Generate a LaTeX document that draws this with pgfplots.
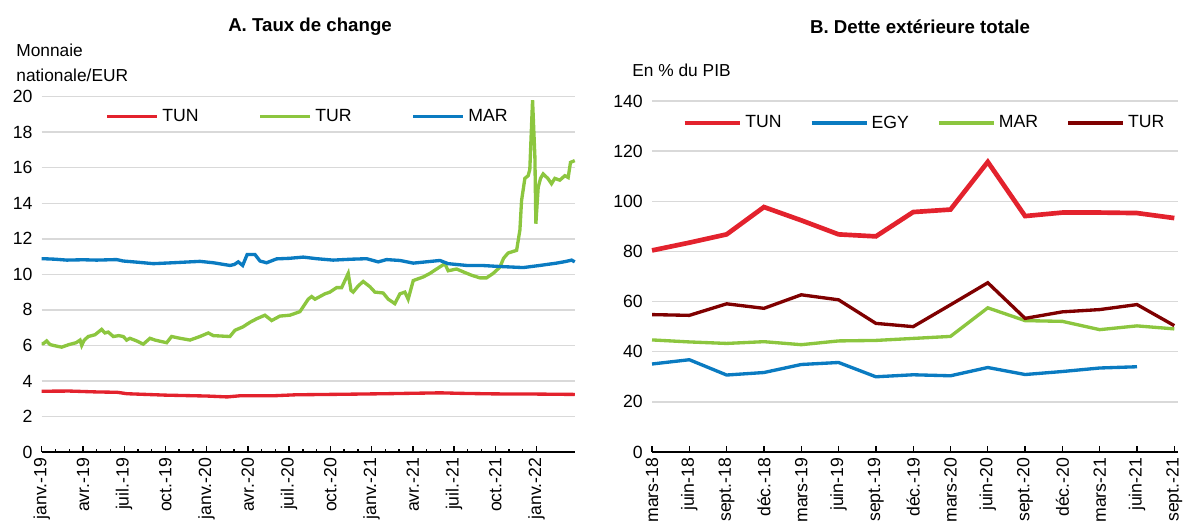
\documentclass[border=0pt]{standalone}
\usepackage{pgfplots}
\pgfplotsset{compat=1.18}
\usepackage{fontspec}
\setmainfont{Liberation Sans}

\definecolor{tunred}{HTML}{E3222D}
\definecolor{turgreen}{HTML}{8CC63F}
\definecolor{marblue}{HTML}{0A7BC1}
\definecolor{turdark}{HTML}{7F0000}
\definecolor{gridgrey}{HTML}{D9D9D9}

\pgfplotsset{
  panel/.style={
    scale only axis,
    axis x line*=bottom, axis y line*=left,
    y axis line style={draw=none},
    x axis line style={black, line width=0.9pt, -},
    ytick style={draw=none},
    ymajorgrids, grid style={gridgrey, line width=0.9pt},
    tick label style={font=\fontsize{10.6}{12}\selectfont},
    /pgf/number format/assume math mode=true,
    xticklabel style={rotate=90, anchor=east},
    xtick style={black, line width=0.8pt},
    tick align=inside,
    major tick length=3.6pt, minor tick length=2pt,
    clip=false,
    legend style={draw=none, fill=none, font=\fontsize{10.6}{12}\selectfont,
      anchor=center, inner sep=0pt},
    legend columns=-1,
  }
}

\begin{document}
\begin{tikzpicture}
\path[use as bounding box] (-25.02pt,-41.4pt) rectangle (690.18pt,271.2pt);

% Panel A
\begin{axis}[panel,
  at={(0pt,0pt)}, anchor=south west,
  width=320pt, height=213.2pt,
  xmin=0, xmax=38.8, ymin=0, ymax=20,
  ytick={0,2,...,20},
  yticklabel style={xshift=-2pt},
  xtick={0,3,...,36},
  minor x tick num=2,
  xticklabels={janv.-19,avr.-19,juil.-19,oct.-19,janv.-20,avr.-20,juil.-20,oct.-20,janv.-21,avr.-21,juil.-21,oct.-21,janv.-22},
  legend style={at={(0.5,0.945)},
    /tikz/every even column/.append style={column sep=34pt}},
  legend image code/.code={\draw[#1] (0pt,0pt) -- (30pt,0pt);},
]
\addplot[tunred, line width=2pt] coordinates {
(0,3.42) (2,3.43) (4,3.38) (5.5,3.36) (6.2,3.28) (9,3.2) (12,3.15) (13.5,3.1)
(14.5,3.17) (17,3.17) (18.5,3.22) (22,3.25) (25,3.28) (29,3.33) (30.5,3.3)
(33,3.27) (36,3.26) (38.78,3.24)
};
\addlegendentry{TUN}
\addplot[turgreen, line width=2pt] coordinates {
(0,6.1) (0.12,6.1) (0.36,6.25) (0.6,6.05) (0.84,6.0) (1.45,5.9) (2.0,6.05) (2.5,6.15)
(2.79,6.3) (2.91,6.0) (3.1,6.3) (3.39,6.5) (3.88,6.6) (4.36,6.9) (4.6,6.7) (4.84,6.75)
(5.21,6.5) (5.6,6.55) (5.93,6.5) (6.18,6.3) (6.42,6.4) (6.91,6.25) (7.39,6.07) (7.88,6.4)
(8.24,6.3) (9.09,6.15) (9.45,6.5) (10.06,6.4) (10.79,6.3) (11.51,6.5) (12.12,6.7) (12.48,6.55)
(13.69,6.5) (14.06,6.85) (14.66,7.05) (15.15,7.3) (15.64,7.5) (16.24,7.7) (16.73,7.4)
(17.33,7.65) (18.06,7.7) (18.79,7.9) (19.39,8.6) (19.64,8.75) (19.88,8.6) (20.6,8.9)
(20.97,9.0) (21.45,9.25) (21.82,9.25) (22.3,10.05) (22.5,9.1) (22.66,9.0) (23.03,9.35)
(23.39,9.6) (23.88,9.3) (24.24,9.0) (24.84,8.95) (25.21,8.6) (25.69,8.35) (26.06,8.9)
(26.42,9.0) (26.66,8.6) (27.03,9.65) (27.75,9.85) (28.24,10.05) (28.73,10.3) (29.33,10.6)
(29.57,10.2) (30.18,10.3) (30.79,10.1) (31.27,9.95) (31.88,9.8) (32.36,9.8) (32.84,10.05)
(33.33,10.4) (33.6,10.9) (33.93,11.2) (34.55,11.35) (34.79,12.5) (34.91,14.15) (35.15,15.4)
(35.39,15.55) (35.51,15.9) (35.71,19.8) (35.88,16.6) (35.95,12.85) (36.12,14.9) (36.29,15.4)
(36.48,15.65) (36.82,15.4) (37.09,15.1) (37.33,15.4) (37.69,15.3) (38.06,15.55) (38.3,15.45)
(38.47,16.3) (38.78,16.4)
};
\addlegendentry{TUR}
\addplot[marblue, line width=2pt] coordinates {
(0,10.88) (0.12,10.88) (1.0,10.85) (1.82,10.8) (3,10.82) (4,10.8) (5.45,10.83) (5.93,10.75)
(7,10.68) (8.12,10.6) (9.5,10.65) (11.51,10.73) (12.5,10.65) (13.69,10.5) (14.0,10.55)
(14.3,10.7) (14.62,10.5) (14.95,11.12) (15.51,11.12) (15.88,10.75) (16.36,10.65) (17.09,10.87)
(18,10.9) (19.03,10.97) (20,10.88) (21.2,10.8) (22.5,10.85) (23.64,10.88) (24.48,10.7)
(25.09,10.83) (26.06,10.78) (27.03,10.63) (28.97,10.78) (29.57,10.6) (30.91,10.5) (32,10.5)
(33.09,10.45) (35.03,10.38) (36.24,10.5) (37.45,10.63) (38.1,10.72) (38.55,10.8) (38.78,10.7)
};
\addlegendentry{MAR}
\end{axis}

% Panel B
\begin{axis}[panel,
  at={(366.2pt,0pt)}, anchor=south west,
  width=315.6pt, height=210.6pt,
  xmin=0, xmax=14.1, ymin=0, ymax=140,
  ytick={0,20,...,140},
  yticklabel style={xshift=-2pt},
  xtick={0,...,14},
  xticklabels={mars-18,juin-18,sept.-18,déc.-18,mars-19,juin-19,sept.-19,déc.-19,mars-20,juin-20,sept.-20,déc.-20,mars-21,juin-21,sept.-21},
  legend style={at={(0.519,0.937)},
    /tikz/every even column/.append style={column sep=15pt}},
  legend image code/.code={\draw[#1] (0pt,0pt) -- (33pt,0pt);},
]
\addplot[tunred, line width=2.8pt] coordinates {
(0,80.4) (1,83.5) (2,86.8) (3,97.7) (4,92.4) (5,86.8) (6,86.0) (7,95.7)
(8,96.7) (9,115.7) (10,94.1) (11,95.5) (12,95.5) (13,95.3) (14,93.3)
};
\addlegendentry{TUN}
\addplot[marblue, line width=2pt] coordinates {
(0,35.1) (1,36.8) (2,30.7) (3,31.7) (4,34.9) (5,35.7) (6,30.0) (7,30.8)
(8,30.4) (9,33.7) (10,30.9) (11,32.1) (12,33.5) (13,34.0)
};
\addlegendentry{EGY}
\addplot[turgreen, line width=2pt] coordinates {
(0,44.7) (1,43.9) (2,43.3) (3,44.0) (4,42.8) (5,44.3) (6,44.5) (7,45.3)
(8,46.1) (9,57.5) (10,52.4) (11,52.1) (12,48.8) (13,50.3) (14,49.1)
};
\addlegendentry{MAR}
\addplot[turdark, line width=2pt] coordinates {
(0,54.8) (1,54.5) (2,59.1) (3,57.3) (4,62.7) (5,60.7) (6,51.3) (7,50.0)
(8,58.7) (9,67.5) (10,53.3) (11,55.9) (12,56.8) (13,58.8) (14,50.4)
};
\addlegendentry{TUR}
\end{axis}

% titles and unit labels
\node[font=\bfseries\fontsize{11.2}{13}\selectfont] at (161pt,255pt) {A. Taux de change};
\node[font=\bfseries\fontsize{11.2}{13}\selectfont] at (527pt,255pt) {B. Dette extérieure totale};
\node[anchor=west, align=left, inner sep=0pt, font=\fontsize{10.4}{15}\selectfont] at (-15.4pt,233.7pt) {Monnaie\\nationale/EUR};
\node[anchor=west, inner sep=0pt, font=\fontsize{10.4}{12}\selectfont] at (354.2pt,229.2pt) {En \% du PIB};
\end{tikzpicture}
\end{document}
